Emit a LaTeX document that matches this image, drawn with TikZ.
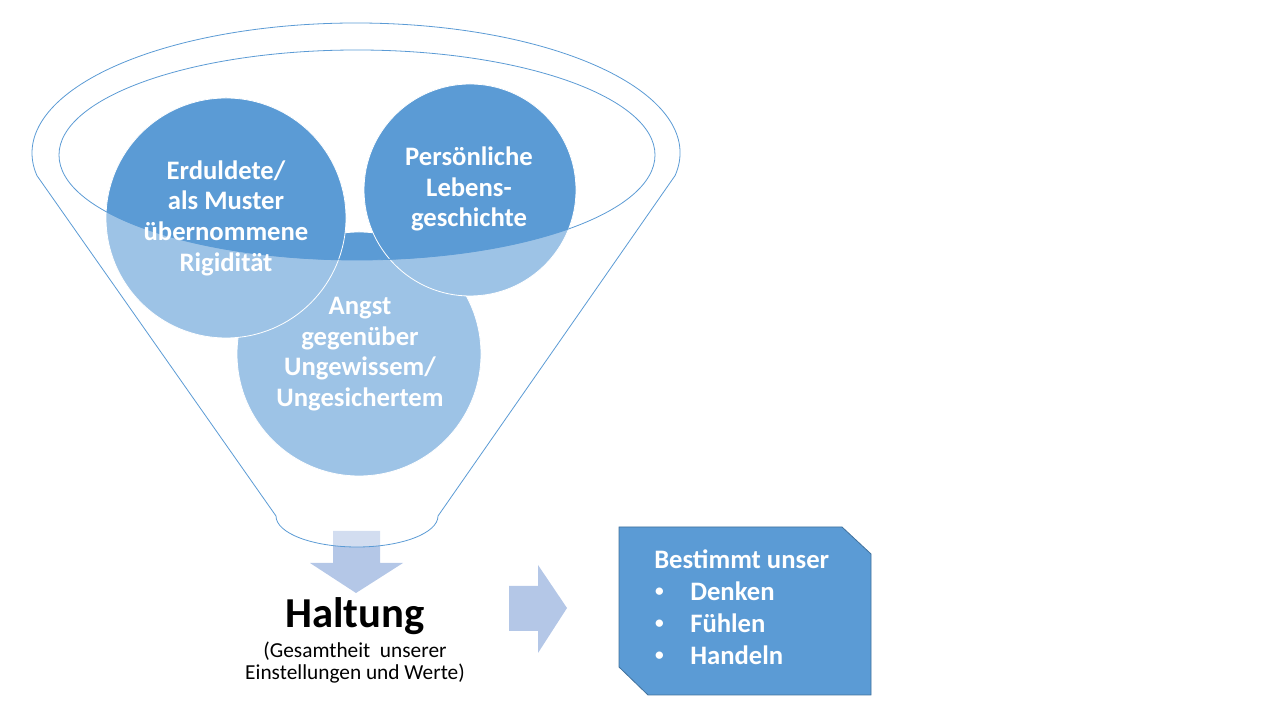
\documentclass[tikz,border=0pt]{standalone}
\usepackage{fontspec}
\setmainfont{Carlito}
\definecolor{dk}{HTML}{5B9BD5}
\definecolor{lt}{HTML}{9DC3E6}
\definecolor{ar}{HTML}{B4C7E7}
\definecolor{bd}{HTML}{41719C}
\begin{document}
\begin{tikzpicture}[x=0.75pt,y=0.75pt,
  fl/.style={draw=dk,line width=0.6pt},
  ctext/.style={text=white,inner sep=0pt,align=center,font=\fontsize{20}{23}\selectfont\bfseries},
  btext/.style={text=white,inner sep=0pt,anchor=base west,font=\fontsize{20}{24}\selectfont\bfseries},
  bul/.style={text=white,inner sep=0pt,anchor=center,font=\fontsize{13}{13}\selectfont\bfseries},
  arrowshape/.style={fill=ar,draw=none}]
\useasboundingbox (0,0) rectangle (1280,720);
% arrows
\fill[arrowshape] (333,189)--(380,189)--(380,157)--(403,157)--(356,127)--(310,157)--(333,157)--cycle;
\fill[arrowshape] (509,134)--(538,134)--(538,155)--(567,112)--(538,67)--(538,89)--(509,89)--cycle;
% funnel
\draw[fl,fill=white,fill opacity=0.4] (356,567) ++(-10:243pt and 97.5pt)
  arc[start angle=-10,end angle=190,x radius=243pt,y radius=97.5pt]
  -- (276,204) arc[start angle=180,end angle=360,x radius=60.75pt,y radius=23.25pt] -- cycle;
% circles light
\coordinate (cA) at (359,366);
\coordinate (cL) at (226,502);
\coordinate (cR) at (470,530);
\filldraw[fill=lt,draw=white,line width=0.6pt] (cA) circle[radius=91.5pt];
\filldraw[fill=lt,draw=white,line width=0.6pt] (cL) circle[radius=90pt];
\filldraw[fill=lt,draw=white,line width=0.6pt] (cR) circle[radius=79.5pt];
\begin{scope}
  \clip (357,565) ellipse[x radius=223.5pt,y radius=78.75pt];
  \filldraw[fill=dk,draw=white,line width=0.6pt] (cA) circle[radius=91.5pt];
  \filldraw[fill=dk,draw=white,line width=0.6pt] (cL) circle[radius=90pt];
  \filldraw[fill=dk,draw=white,line width=0.6pt] (cR) circle[radius=79.5pt];
\end{scope}
\draw[fl] (357,565) ellipse[x radius=223.5pt,y radius=78.75pt];
% circle texts
\node[ctext] (tL) at (226,502) {Erduldete/\\als Muster\\übernommene\\Rigidität};
\node[ctext] (tR) at (469,531) {Persönliche\\Lebens-\\geschichte};
\node[ctext] (tA) at (360,366) {Angst\\gegenüber\\Ungewissem/\\Ungesichertem};
% Haltung
\node[anchor=base,inner sep=0pt,font=\fontsize{32}{38}\selectfont\bfseries] (h) at (355,92) {Haltung};
\node[anchor=base,inner sep=0pt,font=\fontsize{16}{19}\selectfont] (s1) at (355,62) {(Gesamtheit\ \ unserer};
\node[anchor=base,inner sep=0pt,font=\fontsize{16}{19}\selectfont] (s2) at (355,40) {Einstellungen und Werte)};
% box
\draw[draw=bd,fill=dk,line width=0.6pt] (619,193)--(842,193)--(871,166)--(871,25)--(648,25)--(619,53)--cycle;
\node[btext] (b0) at (654,151) {Bestimmt unser};
\node[bul] (b1) at (659.5,128) {\textbullet};
\node[bul] (b2) at (659.5,96) {\textbullet};
\node[bul] (b3) at (659.5,64) {\textbullet};
\node[btext] (d1) at (690,119) {Denken};
\node[btext] (d2) at (690,87) {Fühlen};
\node[btext] (d3) at (690,55) {Handeln};
\end{tikzpicture}
\end{document}
